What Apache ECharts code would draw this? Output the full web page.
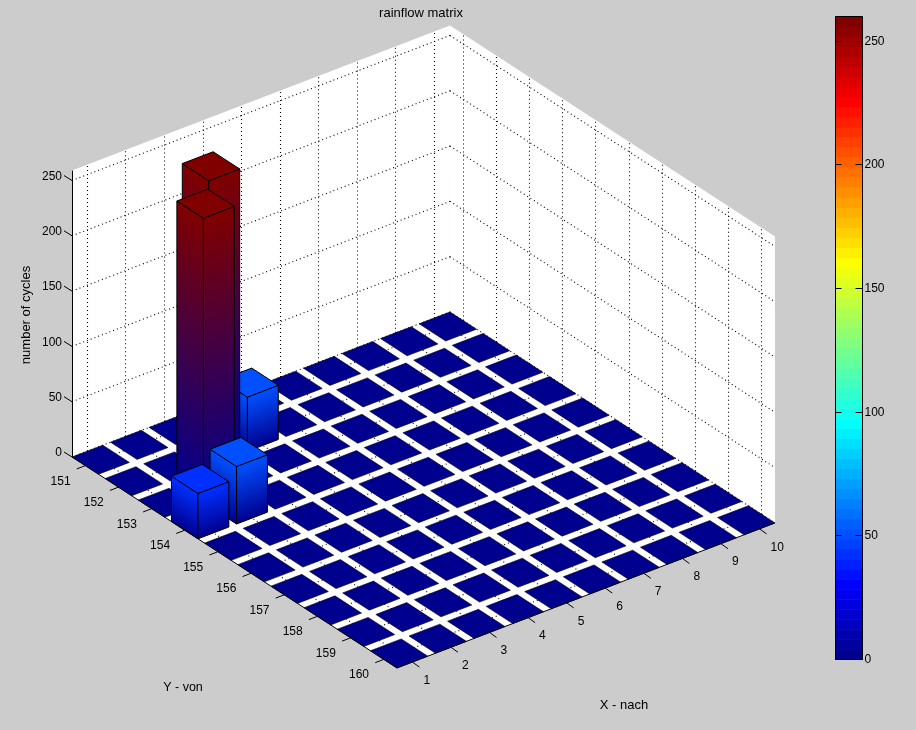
<!DOCTYPE html>
<html>
<head>
<meta charset="utf-8">
<style>html,body{margin:0;padding:0;background:#ccc}#c{width:916px;height:730px}</style>
<script src="https://cdn.jsdelivr.net/npm/echarts@6/dist/echarts.min.js"></script>
</head>
<body>
<div id="c"></div>
<script>
// ---- data ----
const titleText = 'rainflow matrix';
const xName = 'X - nach';
const yName = 'Y - von';
const zName = 'number of cycles';
const xCategories = [1,2,3,4,5,6,7,8,9,10];
const yCategories = [151,152,153,154,155,156,157,158,159,160];
const zTicks = [0,50,100,150,200,250];
const colorbarTicks = [0,50,100,150,200,250];
// one row per Y category, one column per X category
const cycles151 = [0,0,0,0,0,0,0,0,0,0];
const cycles152 = [0,0,258,49,0,0,0,0,0,0];
const cycles153 = [0,257,0,0,0,0,0,0,0,0];
const cycles154 = [41,52,0,0,0,0,0,0,0,0];
const cycles155 = [0,0,0,0,0,0,0,0,0,0];
const cycles156 = [0,0,0,0,0,0,0,0,0,0];
const cycles157 = [0,0,0,0,0,0,0,0,0,0];
const cycles158 = [0,0,0,0,0,0,0,0,0,0];
const cycles159 = [0,0,0,0,0,0,0,0,0,0];
const cycles160 = [0,0,0,0,0,0,0,0,0,0];
const cycleRows = [cycles151,cycles152,cycles153,cycles154,cycles155,cycles156,cycles157,cycles158,cycles159,cycles160];
const colorMax = 260;

// ---- view (MATLAB-like orthographic projection) ----
const FONT = '"Liberation Sans", Arial, sans-serif';
const HALF = 0.4;
const X0 = 0.6, X1 = 10.4, Y0 = 150.6, Y1 = 160.4, Z1 = 259;
const VIEW = {ox:72, oy:457, xx:38.57, xy:-14.8, yx:33.16, yy:21.53, zy:-1.106};
function project(x,y,z){
  const dx=x-X0, dy=y-Y0;
  return [VIEW.ox+dx*VIEW.xx+dy*VIEW.yx, VIEW.oy+dx*VIEW.xy+dy*VIEW.yy+z*VIEW.zy];
}
function jet(i){ // i in 1..64: MATLAB jet colormap
  const seg=(c)=>Math.max(0,Math.min(1,c));
  const t=i/64*4;
  const r=seg(Math.min(t-1.5,4.5-t)), g=seg(Math.min(t-0.5,3.5-t)), b=seg(Math.min(t+0.5,2.5-t));
  return 'rgb('+Math.round(r*255)+','+Math.round(g*255)+','+Math.round(b*255)+')';
}
function valueColor(v){
  return jet(Math.max(1,Math.min(64,Math.floor(v/colorMax*64)+1)));
}
const baseColor = jet(1);

// ---- series data ----
const cellData = [];
yCategories.forEach((y,r)=>{
  for(let c=xCategories.length-1;c>=0;c--) cellData.push([xCategories[c],y,cycleRows[r][c]]);
});
const gridLines = [];
xCategories.forEach(x=>{
  gridLines.push([[x,Y0,0],[x,Y0,Z1]]);
  gridLines.push([[x,Y0,0],[x,Y1,0]]);
});
yCategories.forEach(y=>{
  gridLines.push([[X1,y,0],[X1,y,Z1]]);
  gridLines.push([[X0,y,0],[X1,y,0]]);
});
zTicks.forEach(z=>{
  gridLines.push([[X0,Y0,z],[X1,Y0,z]]);
  gridLines.push([[X1,Y0,z],[X1,Y1,z]]);
});
const levels = [];
for(let i=1;i<=64;i++) levels.push(i);

// ---- render helpers ----
const snap = v => Math.round(v-0.5)+0.5;
function pts(api,list){ return list.map(p=>api.coord(project(p[0],p[1],p[2]))); }
function poly(points,style){ return {type:'polygon',shape:{points},style}; }
function line(a,b,style){
  let x1=a[0],y1=a[1],x2=b[0],y2=b[1];
  if(Math.abs(x1-x2)<0.01){ x1=x2=snap(x1); }
  if(Math.abs(y1-y2)<0.01){ y1=y2=snap(y1); }
  return {type:'line',shape:{x1,y1,x2,y2},style};
}
function txt(x,y,text,align,size,extra){
  return Object.assign({type:'text',x,y,style:{text,fill:'#000',font:size+'px '+FONT,textAlign:align,textVerticalAlign:'middle'}},extra||{});
}
function sideGradient(b,t,e,top){
  // iso-colour lines follow the face's bottom edge
  const ux=e[0]-b[0], uy=e[1]-b[1], L=Math.hypot(ux,uy);
  const nx=-uy/L, ny=ux/L;
  const k=(t[0]-b[0])*nx+(t[1]-b[1])*ny;
  return new echarts.graphic.LinearGradient(b[0],b[1],b[0]+nx*k,b[1]+ny*k,
    [{offset:0,color:baseColor},{offset:1,color:top}],true);
}
function renderWalls(params,api){
  const white={fill:'#fff',stroke:null};
  return {type:'group',children:[
    poly(pts(api,[[X0,Y0,0],[X1,Y0,0],[X1,Y0,Z1],[X0,Y0,Z1]]),white),
    poly(pts(api,[[X1,Y0,0],[X1,Y1,0],[X1,Y1,Z1],[X1,Y0,Z1]]),white),
    poly(pts(api,[[X0,Y0,0],[X1,Y0,0],[X1,Y1,0],[X0,Y1,0]]),white)
  ]};
}
function renderGrid(params,api){
  const g=gridLines[params.dataIndex];
  const p=pts(api,g);
  return line(p[0],p[1],{stroke:'#000',lineWidth:1.1,lineDash:[1,3]});
}
function renderCell(params,api){
  const x=api.value(0), y=api.value(1), v=api.value(2);
  const col=valueColor(v);
  const edge={stroke:'#000',lineWidth:v>0?1:0.6};
  const a=x-HALF,b=x+HALF,c=y-HALF,d=y+HALF;
  const top=pts(api,[[a,c,v],[b,c,v],[b,d,v],[a,d,v]]);
  const children=[];
  if(v>0){
    const fl=pts(api,[[a,c,0],[a,d,0],[b,d,0]]);
    children.push(poly([fl[0],fl[1],top[3],top[0]],Object.assign({fill:sideGradient(fl[0],top[0],fl[1],col)},edge)));
    children.push(poly([fl[1],fl[2],top[2],top[3]],Object.assign({fill:sideGradient(fl[1],top[3],fl[2],col)},edge)));
  }
  children.push(poly(top,Object.assign({fill:col},edge)));
  return {type:'group',children};
}
function renderFrame(params,api){
  const s={stroke:'#000',lineWidth:1};
  const l0=pts(api,[[X0,Y0,0],[X0,Y0,Z1],[X0,Y1,0],[X1,Y1,0]]);
  const ch=[line(l0[0],l0[1],s),line(l0[0],l0[2],s),line(l0[2],l0[3],s)];
  zTicks.forEach(z=>{
    const p=api.coord(project(X0,Y0,z));
    ch.push(line(p,[p[0]-8,p[1]-5],s));
    ch.push(txt(62,p[1]-4,String(z),'right',12));
  });
  yCategories.forEach(y=>{
    const p=api.coord(project(X0,y,0));
    ch.push(line(p,[p[0]-8.5,p[1]+3.3],s));
    ch.push(txt(p[0]-24.7,p[1]+15.6,String(y),'center',12));
  });
  xCategories.forEach(x=>{
    const p=api.coord(project(x,Y1,0));
    ch.push(line(p,[p[0]+7,p[1]+5],s));
    ch.push(txt(p[0]+11,p[1]+18.5,String(x),'left',12));
  });
  ch.push(txt(183,688,yName,'center',12.5));
  ch.push(txt(624,705,xName,'center',13));
  ch.push(txt(26,315,zName,'center',13,{rotation:Math.PI/2}));
  return {type:'group',children:ch};
}
function renderLevel(params,api){
  const i=api.value(0);
  const a=api.coord([0,(i-1)/64*colorMax]), b=api.coord([1,i/64*colorMax]);
  return {type:'rect',shape:{x:a[0],y:b[1],width:b[0]-a[0],height:a[1]-b[1]+0.5},style:{fill:jet(i)}};
}
function renderColorbarFrame(params,api){
  const s={stroke:'#000',lineWidth:1};
  const lb=api.coord([0,0]), rt=api.coord([1,colorMax]);
  const ch=[{type:'rect',shape:{x:snap(lb[0]),y:snap(rt[1]),width:Math.round(rt[0]-lb[0]),height:Math.round(lb[1]-rt[1])},style:{fill:null,stroke:'#000',lineWidth:1}}];
  colorbarTicks.forEach(t=>{
    const l=api.coord([0,t]), r=api.coord([1,t]);
    ch.push(line(l,[l[0]+6,l[1]],s));
    ch.push(line([r[0]-7,r[1]],r,s));
  });
  return {type:'group',children:ch};
}

const chart = echarts.init(document.getElementById('c'),null,{renderer:'canvas'});
const hiddenAxis = {type:'value',show:false};
chart.setOption({
  animation:false,
  backgroundColor:'#cccccc',
  title:{text:titleText,left:421,top:7,padding:0,textAlign:'center',
    textStyle:{fontFamily:FONT,fontSize:13,fontWeight:'normal',color:'#000'}},
  grid:[
    {left:0,top:0,width:916,height:730},
    {left:835.5,top:16.5,width:27,height:643}
  ],
  xAxis:[
    Object.assign({gridIndex:0,min:0,max:916},hiddenAxis),
    Object.assign({gridIndex:1,min:0,max:1},hiddenAxis)
  ],
  yAxis:[
    Object.assign({gridIndex:0,min:0,max:730,inverse:true},hiddenAxis),
    {type:'value',gridIndex:1,min:0,max:colorMax,interval:50,position:'right',
      axisLine:{show:false},axisTick:{show:false},
      axisLabel:{show:true,color:'#000',fontFamily:FONT,fontSize:12,margin:2,
        padding:[3,0,0,0],customValues:colorbarTicks},
      splitLine:{show:false}}
  ],
  series:[
    {type:'custom',coordinateSystem:'cartesian2d',xAxisIndex:0,yAxisIndex:0,silent:true,z:1,clip:false,
      data:[[0,0]],renderItem:renderWalls},
    {type:'custom',coordinateSystem:'cartesian2d',xAxisIndex:0,yAxisIndex:0,silent:true,z:2,clip:false,
      data:gridLines.map((g,i)=>[i,0]),renderItem:renderGrid},
    {type:'custom',coordinateSystem:'cartesian2d',xAxisIndex:0,yAxisIndex:0,silent:true,z:3,clip:false,
      encode:{x:-1,y:-1},dimensions:['x','y','v'],data:cellData,renderItem:renderCell},
    {type:'custom',coordinateSystem:'cartesian2d',xAxisIndex:0,yAxisIndex:0,silent:true,z:4,clip:false,
      data:[[0,0]],renderItem:renderFrame},
    {type:'custom',coordinateSystem:'cartesian2d',xAxisIndex:1,yAxisIndex:1,silent:true,z:1,
      data:levels.map(i=>[i,0]),renderItem:renderLevel},
    {type:'custom',coordinateSystem:'cartesian2d',xAxisIndex:1,yAxisIndex:1,silent:true,z:2,clip:false,
      data:[[0,0]],renderItem:renderColorbarFrame}
  ]
});
</script>
</body>
</html>
